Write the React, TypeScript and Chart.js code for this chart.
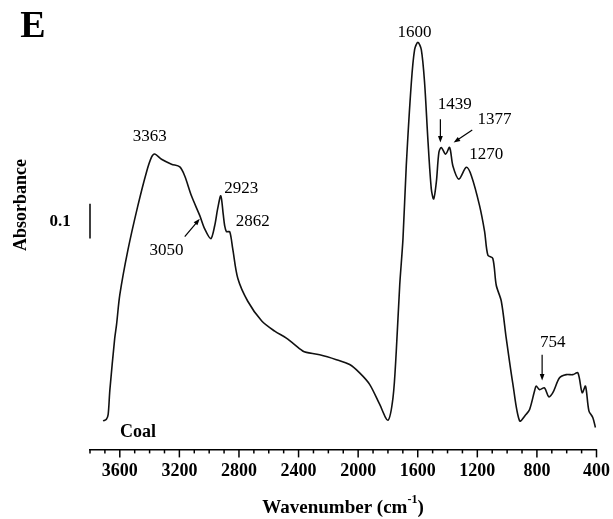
import React, { useEffect, useRef } from "react";
import { Chart, registerables } from "chart.js";
Chart.register(...registerables);

const wavenumbers = [
  3712, 3690, 3678, 3667, 3634, 3622, 3600, 3546, 3479, 3421, 3387, 3365, 3320, 3253, 3197, 3164, 3119, 3063, 3030,
  2989, 2963, 2943, 2922, 2906, 2896, 2884, 2862, 2842, 2808, 2741, 2647, 2560, 2482, 2372, 2347, 2258, 2146, 2057,
  1990, 1923, 1856, 1800, 1766, 1744, 1721, 1699, 1677, 1643, 1621, 1599, 1576, 1554, 1532, 1509, 1493, 1475, 1458,
  1442, 1413, 1386, 1364, 1324, 1274, 1240, 1185, 1151, 1129, 1096, 1073, 1039, 1006, 961, 916, 872, 849, 816, 805,
  782, 749, 720, 693, 648, 603, 559, 525, 496, 474, 451, 425, 407,
];
const absorbance = [
  0.019, 0.024, 0.038, 0.106, 0.257, 0.295, 0.381, 0.509, 0.637, 0.734, 0.777, 0.786, 0.771, 0.757, 0.749, 0.723,
  0.666, 0.609, 0.571, 0.543, 0.58, 0.629, 0.666, 0.614, 0.58, 0.563, 0.563, 0.514, 0.429, 0.363, 0.306, 0.277, 0.257,
  0.22, 0.216, 0.209, 0.195, 0.181, 0.157, 0.124, 0.067, 0.021, 0.086, 0.22, 0.409, 0.543, 0.752, 0.991, 1.086, 1.107,
  1.086, 0.991, 0.829, 0.686, 0.657, 0.706, 0.791, 0.805, 0.786, 0.805, 0.752, 0.714, 0.748, 0.724, 0.638, 0.563,
  0.495, 0.486, 0.409, 0.363, 0.257, 0.124, 0.019, 0.038, 0.052, 0.105, 0.119, 0.109, 0.114, 0.088, 0.1, 0.143,
  0.152, 0.152, 0.157, 0.1, 0.119, 0.048, 0.029, 0.0,
];
const xTickLabels = [3600, 3200, 2800, 2400, 2000, 1600, 1200, 800, 400];

const peakLabels = ["3363", "2923", "2862", "3050", "1600", "1439", "1377", "1270", "754"];
const peakLabelX = [3399, 2784, 2708, 3287, 1621, 1352, 1084, 1140, 693];
const peakLabelY = [0.837, 0.686, 0.592, 0.509, 1.136, 0.929, 0.886, 0.786, 0.243];

const arrowFromX = [3164, 1448, 1234, 765];
const arrowFromY = [0.549, 0.886, 0.855, 0.209];
const arrowToX = [3063, 1448, 1359, 765];
const arrowToY = [0.6, 0.819, 0.819, 0.135];

const SERIF = '"Liberation Serif", "Times New Roman", serif';

const decorPlugin = {
  id: "decor",
  afterDraw(chart: any) {
    const ctx = chart.ctx as CanvasRenderingContext2D;
    const xs = chart.scales.x;
    const ys = chart.scales.y;
    const area = chart.chartArea;
    ctx.save();
    ctx.strokeStyle = "#000";
    ctx.fillStyle = "#000";
    // tick marks
    ctx.lineWidth = 1.5;
    for (let v = 3800; v >= 400; v -= 100) {
      const px = xs.getPixelForValue(v);
      const len = v % 400 === 0 ? 8 : 4;
      ctx.beginPath();
      ctx.moveTo(px, xs.top);
      ctx.lineTo(px, xs.top + len);
      ctx.stroke();
    }
    // peak labels
    ctx.font = `17px ${SERIF}`;
    ctx.textAlign = "center";
    ctx.textBaseline = "middle";
    peakLabels.forEach((t, i) => {
      ctx.fillText(t, xs.getPixelForValue(peakLabelX[i]), ys.getPixelForValue(peakLabelY[i]));
    });
    // arrows
    ctx.lineWidth = 1.2;
    arrowFromX.forEach((_, i) => {
      const x1 = xs.getPixelForValue(arrowFromX[i]);
      const y1 = ys.getPixelForValue(arrowFromY[i]);
      const x2 = xs.getPixelForValue(arrowToX[i]);
      const y2 = ys.getPixelForValue(arrowToY[i]);
      const ang = Math.atan2(y2 - y1, x2 - x1);
      const hl = 7;
      ctx.beginPath();
      ctx.moveTo(x1, y1);
      ctx.lineTo(x2 - Math.cos(ang) * 4, y2 - Math.sin(ang) * 4);
      ctx.stroke();
      ctx.beginPath();
      ctx.moveTo(x2, y2);
      ctx.lineTo(x2 - hl * Math.cos(ang - 0.35), y2 - hl * Math.sin(ang - 0.35));
      ctx.lineTo(x2 - hl * Math.cos(ang + 0.35), y2 - hl * Math.sin(ang + 0.35));
      ctx.closePath();
      ctx.fill();
    });
    // scale bar 0.1
    const bx = xs.getPixelForValue(3800);
    ctx.lineWidth = 1.5;
    ctx.beginPath();
    ctx.moveTo(bx, ys.getPixelForValue(0.643));
    ctx.lineTo(bx, ys.getPixelForValue(0.543));
    ctx.stroke();
    ctx.font = `bold 17px ${SERIF}`;
    ctx.textAlign = "center";
    ctx.fillText("0.1", 60, ys.getPixelForValue(0.593));
    // Coal
    ctx.font = `bold 18px ${SERIF}`;
    ctx.fillText("Coal", 138, area.bottom - 17);
    // E
    ctx.font = `bold 38px ${SERIF}`;
    ctx.fillText("E", 33, 27);
    // Absorbance
    ctx.save();
    ctx.translate(21, 205);
    ctx.rotate(-Math.PI / 2);
    ctx.font = `bold 18px ${SERIF}`;
    ctx.fillText("Absorbance", 0, 0);
    ctx.restore();
    // x title with superscript
    const main = "Wavenumber (cm";
    const sup = "-1";
    const end = ")";
    const fMain = `bold 19px ${SERIF}`;
    const fSup = `bold 12px ${SERIF}`;
    ctx.font = fMain;
    const wMain = ctx.measureText(main).width;
    const wEnd = ctx.measureText(end).width;
    ctx.font = fSup;
    const wSup = ctx.measureText(sup).width;
    const total = wMain + wSup + wEnd;
    let sx = 343 - total / 2;
    const ty = 508;
    ctx.textAlign = "left";
    ctx.font = fMain;
    ctx.fillText(main, sx, ty);
    sx += wMain;
    ctx.font = fSup;
    ctx.fillText(sup, sx, ty - 8);
    sx += wSup;
    ctx.font = fMain;
    ctx.fillText(end, sx, ty);
    ctx.restore();
  },
};

export default function App() {
  const ref = useRef<HTMLCanvasElement | null>(null);
  useEffect(() => {
    if (!ref.current) return;
    const chart = new Chart(ref.current, {
      type: "line",
      data: {
        datasets: [
          {
            data: wavenumbers.map((x, i) => ({ x, y: absorbance[i] })),
            borderColor: "#111",
            borderWidth: 1.6,
            pointRadius: 0,
            tension: 0.3,
            fill: false,
          },
        ],
      },
      options: {
        animation: false,
        responsive: true,
        maintainAspectRatio: false,
        layout: { padding: { left: 90, right: 16, top: 20, bottom: 34 } },
        plugins: { legend: { display: false }, tooltip: { enabled: false } },
        scales: {
          x: {
            type: "linear",
            reverse: true,
            min: 400,
            max: 3800,
            ticks: {
              stepSize: 100,
              autoSkip: false,
              maxRotation: 0,
              color: "#000",
              padding: 3,
              font: { family: SERIF, size: 18, weight: "bold" },
              callback: (v: any) => (xTickLabels.includes(Number(v)) ? String(v) : ""),
            },
            grid: { drawOnChartArea: false, drawTicks: true, tickLength: 8, color: "rgba(0,0,0,0)" },
            border: { display: true, color: "#000", width: 1.5 },
          },
          y: { display: false, min: -0.0629, max: 1.1714 },
        },
      },
      plugins: [decorPlugin],
    } as any);
    return () => chart.destroy();
  }, []);
  return (
    <div style={{ position: "absolute", left: 0, top: 0, width: 613, height: 519, background: "#fff" }}>
      <canvas ref={ref} />
    </div>
  );
}
